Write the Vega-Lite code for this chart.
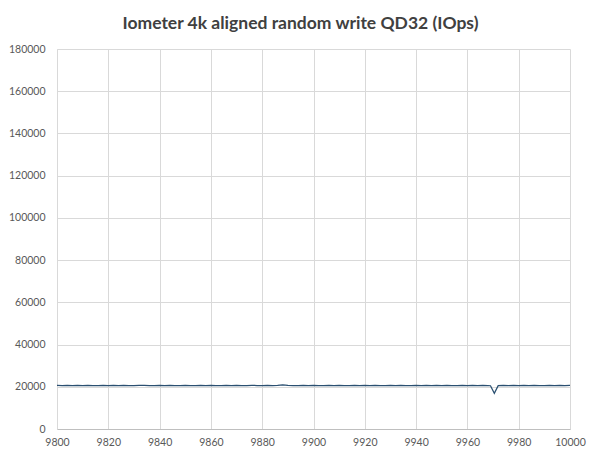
{
  "$schema": "https://vega.github.io/schema/vega-lite/v6.json",
  "width": 513,
  "height": 380,
  "autosize": {"type": "none"},
  "padding": {"left": 57, "top": 49, "right": 30, "bottom": 30},
  "background": "white",
  "title": {
    "text": "Iometer 4k aligned random write QD32 (IOps)",
    "font": "Lato",
    "fontSize": 17.5,
    "fontWeight": "bold",
    "color": "#404040",
    "anchor": "middle",
    "dx": -13,
    "offset": 12
  },
  "data": {
    "values": [
      {"x": 9800, "y": 20650}, {"x": 9802, "y": 20600}, {"x": 9804, "y": 20700}, {"x": 9806, "y": 20550},
      {"x": 9808, "y": 20650}, {"x": 9810, "y": 20600}, {"x": 9812, "y": 20700}, {"x": 9814, "y": 20600},
      {"x": 9816, "y": 20500}, {"x": 9818, "y": 20650}, {"x": 9820, "y": 20600}, {"x": 9822, "y": 20700},
      {"x": 9824, "y": 20550}, {"x": 9826, "y": 20650}, {"x": 9828, "y": 20600}, {"x": 9830, "y": 20500},
      {"x": 9832, "y": 20650}, {"x": 9834, "y": 20700}, {"x": 9836, "y": 20600}, {"x": 9838, "y": 20550},
      {"x": 9840, "y": 20650}, {"x": 9842, "y": 20600}, {"x": 9844, "y": 20700}, {"x": 9846, "y": 20550},
      {"x": 9848, "y": 20600}, {"x": 9850, "y": 20650}, {"x": 9852, "y": 20500}, {"x": 9854, "y": 20600},
      {"x": 9856, "y": 20700}, {"x": 9858, "y": 20600}, {"x": 9860, "y": 20650}, {"x": 9862, "y": 20550},
      {"x": 9864, "y": 20600}, {"x": 9866, "y": 20700}, {"x": 9868, "y": 20600}, {"x": 9870, "y": 20650},
      {"x": 9872, "y": 20500}, {"x": 9874, "y": 20600}, {"x": 9876, "y": 20700}, {"x": 9878, "y": 20600},
      {"x": 9880, "y": 20550}, {"x": 9882, "y": 20650}, {"x": 9884, "y": 20600}, {"x": 9886, "y": 20700},
      {"x": 9888, "y": 20900}, {"x": 9890, "y": 20650}, {"x": 9892, "y": 20600}, {"x": 9894, "y": 20550},
      {"x": 9896, "y": 20650}, {"x": 9898, "y": 20600}, {"x": 9900, "y": 20700}, {"x": 9902, "y": 20600},
      {"x": 9904, "y": 20550}, {"x": 9906, "y": 20650}, {"x": 9908, "y": 20600}, {"x": 9910, "y": 20700},
      {"x": 9912, "y": 20600}, {"x": 9914, "y": 20500}, {"x": 9916, "y": 20650}, {"x": 9918, "y": 20600},
      {"x": 9920, "y": 20700}, {"x": 9922, "y": 20550}, {"x": 9924, "y": 20650}, {"x": 9926, "y": 20600},
      {"x": 9928, "y": 20500}, {"x": 9930, "y": 20650}, {"x": 9932, "y": 20600}, {"x": 9934, "y": 20700},
      {"x": 9936, "y": 20550}, {"x": 9938, "y": 20600}, {"x": 9940, "y": 20650}, {"x": 9942, "y": 20600},
      {"x": 9944, "y": 20700}, {"x": 9946, "y": 20550}, {"x": 9948, "y": 20650}, {"x": 9950, "y": 20600},
      {"x": 9952, "y": 20700}, {"x": 9954, "y": 20600}, {"x": 9956, "y": 20500}, {"x": 9958, "y": 20650},
      {"x": 9960, "y": 20600}, {"x": 9962, "y": 20700}, {"x": 9964, "y": 20600}, {"x": 9966, "y": 20650},
      {"x": 9968, "y": 20600}, {"x": 9969, "y": 20500}, {"x": 9970.5, "y": 16900}, {"x": 9972, "y": 20500},
      {"x": 9974, "y": 20650}, {"x": 9976, "y": 20600}, {"x": 9978, "y": 20700}, {"x": 9980, "y": 20550},
      {"x": 9982, "y": 20650}, {"x": 9984, "y": 20600}, {"x": 9986, "y": 20700}, {"x": 9988, "y": 20600},
      {"x": 9990, "y": 20550}, {"x": 9992, "y": 20650}, {"x": 9994, "y": 20600}, {"x": 9996, "y": 20700},
      {"x": 9998, "y": 20600}, {"x": 10000, "y": 20650}
    ]
  },
  "mark": {"type": "line", "color": "#2b5071", "strokeWidth": 1.25, "interpolate": "linear"},
  "encoding": {
    "x": {
      "field": "x",
      "type": "quantitative",
      "scale": {"domain": [9800, 10000], "nice": false, "zero": false},
      "axis": {
        "title": null,
        "values": [9800, 9820, 9840, 9860, 9880, 9900, 9920, 9940, 9960, 9980, 10000],
        "format": "d",
        "ticks": false,
        "labelPadding": 8,
        "labelFont": "Lato",
        "labelFontSize": 10.5,
        "labelColor": "#595959",
        "gridColor": "#d9d9d9",
        "domainColor": "#bfbfbf",
        "labelFlush": false
      }
    },
    "y": {
      "field": "y",
      "type": "quantitative",
      "scale": {"domain": [0, 180000], "nice": false},
      "axis": {
        "title": null,
        "values": [0, 20000, 40000, 60000, 80000, 100000, 120000, 140000, 160000, 180000],
        "format": "d",
        "ticks": false,
        "labelPadding": 12,
        "labelFont": "Lato",
        "labelFontSize": 10.5,
        "labelColor": "#595959",
        "gridColor": "#d9d9d9",
        "domainColor": "#d9d9d9"
      }
    }
  },
  "config": {"view": {"stroke": null}}
}
